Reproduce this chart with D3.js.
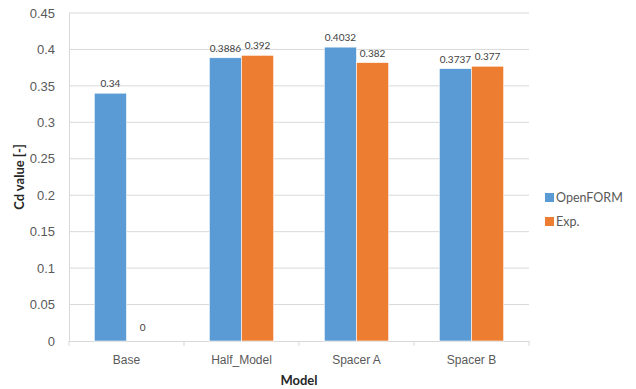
<!DOCTYPE html>
<html>
<head>
<meta charset="utf-8">
<script src="https://cdn.jsdelivr.net/npm/d3@7"></script>
<style>
  html, body { margin: 0; padding: 0; background: #fff; }
  svg { display: block; font-family: Lato, "Open Sans", sans-serif; }
</style>
</head>
<body>
<svg id="chart" width="636" height="389"></svg>
<script>
// Drag coefficient per model: simulation vs. experiment
const models = ["Base", "Half_Model", "Spacer A", "Spacer B"];
const seriesNames = ["OpenFORM", "Exp."];
const openformValues = [0.34, 0.3886, 0.4032, 0.3737];
const expValues = [0, 0.392, 0.382, 0.377];
const valueLabels = [["0.34", "0.3886", "0.4032", "0.3737"], ["0", "0.392", "0.382", "0.377"]];
const yTicks = [0, 0.05, 0.1, 0.15, 0.2, 0.25, 0.3, 0.35, 0.4, 0.45];
const colors = ["#5B9BD5", "#ED7D31"];

const svg = d3.select("#chart");
const margin = { left: 69, right: 107, top: 13, bottom: 48 };
const W = 636, H = 389;

const x = d3.scaleBand().domain(models).range([margin.left, W - margin.right]);
const y = d3.scaleLinear().domain([0, 0.45]).range([H - margin.bottom, margin.top]);

const bandW = x.bandwidth();
const barW = bandW * 0.28;
const inner = d3.scaleBand().domain(seriesNames).range([0, barW * 2]);

// gridlines
svg.append("g")
  .selectAll("line")
  .data(yTicks.filter(t => t > 0))
  .join("line")
  .attr("x1", margin.left).attr("x2", W - margin.right)
  .attr("y1", d => y(d)).attr("y2", d => y(d))
  .attr("stroke", "#d9d9d9").attr("stroke-width", 1);

// y axis
const yAxis = svg.append("g")
  .attr("transform", `translate(${margin.left},0)`)
  .call(d3.axisLeft(y).tickValues(yTicks).tickSize(0).tickPadding(14).tickFormat(d => d3.format("")(+d.toFixed(2))));
yAxis.select(".domain").attr("stroke", "#d9d9d9");
yAxis.selectAll("text").attr("fill", "#595959").style("font-size", "13px");

// x axis
const xAxis = svg.append("g")
  .attr("transform", `translate(0,${y(0)})`)
  .call(d3.axisBottom(x).tickSize(0).tickPadding(14));
xAxis.select(".domain").attr("stroke", "#d9d9d9");
xAxis.selectAll("text").attr("fill", "#595959").style("font-size", "12px");
// category separators
svg.append("g")
  .selectAll("line")
  .data(d3.range(models.length + 1))
  .join("line")
  .attr("x1", i => margin.left + i * bandW).attr("x2", i => margin.left + i * bandW)
  .attr("y1", y(0)).attr("y2", y(0) + 5)
  .attr("stroke", "#d9d9d9");

// bars
const series = [openformValues, expValues];
const groups = svg.append("g");
series.forEach((vals, si) => {
  groups.append("g")
    .selectAll("rect")
    .data(vals)
    .join("rect")
    .attr("x", (d, i) => x(models[i]) + (bandW - barW * 2) / 2 + inner(seriesNames[si]))
    .attr("width", inner.bandwidth())
    .attr("y", d => y(d))
    .attr("height", d => y(0) - y(d))
    .attr("fill", colors[si])
    .attr("stroke", "#ffffff").attr("stroke-width", 0.6);

  groups.append("g")
    .selectAll("text")
    .data(vals)
    .join("text")
    .attr("x", (d, i) => x(models[i]) + (bandW - barW * 2) / 2 + inner(seriesNames[si]) + inner.bandwidth() / 2)
    .attr("y", d => y(d) - 6 - (d === 0 ? 4 : 0))
    .attr("text-anchor", "middle")
    .attr("fill", "#404040")
    .style("font-size", "10px")
    .text((d, i) => valueLabels[si][i]);
});

// axis titles
svg.append("text")
  .attr("x", (margin.left + W - margin.right) / 2)
  .attr("y", 385)
  .attr("text-anchor", "middle")
  .attr("fill", "#262626")
  .style("font-size", "13px").style("font-weight", "bold")
  .text("Model");

svg.append("text")
  .attr("transform", `translate(24,${(margin.top + H - margin.bottom) / 2}) rotate(-90)`)
  .attr("text-anchor", "middle")
  .attr("fill", "#262626")
  .style("font-size", "13px").style("font-weight", "bold")
  .text("Cd value [-]");

// legend
const legend = svg.append("g").attr("transform", "translate(545,193)");
seriesNames.forEach((name, i) => {
  const g = legend.append("g").attr("transform", `translate(0,${i * 24})`);
  g.append("rect").attr("width", 9).attr("height", 9).attr("fill", colors[i]);
  g.append("text").attr("x", 11).attr("y", 9)
    .attr("fill", "#595959").style("font-size", "12.5px").text(name);
});
</script>
</body>
</html>
